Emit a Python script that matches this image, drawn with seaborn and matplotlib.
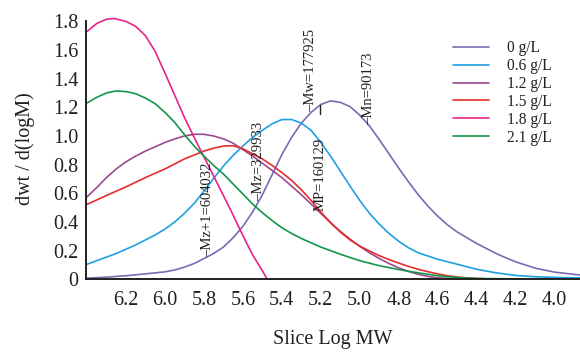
import numpy as np
import pandas as pd
import matplotlib
matplotlib.use("Agg")
import matplotlib.pyplot as plt
import seaborn as sns

# Molecular weight distribution curves, dwt/d(logM) vs slice log MW
labels = ["0 g/L", "0.6 g/L", "1.2 g/L", "1.5 g/L", "1.8 g/L", "2.1 g/L"]
colors = ["#7a6ab4", "#1ea0e2", "#9a4a8e", "#e52d2b", "#e5248a", "#14964a"]

logm_0 = [6.40, 6.30, 6.20, 6.10, 6.00, 5.95, 5.90, 5.85, 5.80, 5.75, 5.70, 5.65,
          5.60, 5.55, 5.50, 5.45, 5.40, 5.35, 5.30, 5.25, 5.20, 5.15, 5.10, 5.05,
          5.00, 4.95, 4.90, 4.85, 4.80, 4.75, 4.70, 4.65, 4.60, 4.55, 4.50, 4.45,
          4.40, 4.35, 4.30, 4.25, 4.20, 4.10, 4.00, 3.87]
dwt_0 = [0.008, 0.015, 0.025, 0.038, 0.052, 0.065, 0.085, 0.11, 0.145, 0.18, 0.225, 0.29,
         0.37, 0.47, 0.59, 0.73, 0.87, 0.99, 1.09, 1.165, 1.22, 1.245, 1.235, 1.205,
         1.145, 1.07, 0.975, 0.875, 0.775, 0.68, 0.59, 0.51, 0.44, 0.38, 0.33, 0.29,
         0.25, 0.215, 0.18, 0.15, 0.122, 0.078, 0.05, 0.03]

logm_06 = [6.40, 6.35, 6.30, 6.25, 6.20, 6.15, 6.10, 6.05, 6.00, 5.95, 5.90, 5.85,
           5.80, 5.75, 5.70, 5.65, 5.60, 5.55, 5.50, 5.45, 5.40, 5.35, 5.30, 5.25,
           5.20, 5.15, 5.10, 5.05, 5.00, 4.95, 4.90, 4.85, 4.80, 4.75, 4.70, 4.60,
           4.50, 4.40, 4.30, 4.20, 4.10, 4.00, 3.87]
dwt_06 = [0.105, 0.13, 0.155, 0.18, 0.21, 0.24, 0.275, 0.31, 0.35, 0.40, 0.46, 0.53,
          0.615, 0.705, 0.79, 0.865, 0.93, 0.99, 1.04, 1.085, 1.115, 1.115, 1.09, 1.04,
          0.955, 0.86, 0.755, 0.65, 0.55, 0.46, 0.385, 0.32, 0.265, 0.22, 0.185, 0.14,
          0.105, 0.07, 0.045, 0.027, 0.018, 0.013, 0.01]

logm_12 = [6.40, 6.35, 6.30, 6.25, 6.20, 6.15, 6.10, 6.05, 6.00, 5.95, 5.90, 5.85,
           5.80, 5.75, 5.70, 5.65, 5.60, 5.55, 5.50, 5.45, 5.40, 5.35, 5.30, 5.25,
           5.20, 5.15, 5.10, 5.05, 5.00, 4.95, 4.90, 4.85, 4.80, 4.75, 4.70, 4.65,
           4.60, 4.50, 3.87]
dwt_12 = [0.575, 0.64, 0.71, 0.77, 0.82, 0.86, 0.895, 0.925, 0.955, 0.98, 1.0, 1.012,
          1.012, 1.0, 0.98, 0.95, 0.905, 0.86, 0.81, 0.76, 0.71, 0.65, 0.59, 0.525,
          0.46, 0.395, 0.335, 0.28, 0.23, 0.185, 0.145, 0.11, 0.08, 0.055, 0.035, 0.02,
          0.01, 0.003, 0.0]

logm_15 = [6.40, 6.30, 6.20, 6.10, 6.00, 5.90, 5.80, 5.75, 5.70, 5.65, 5.60, 5.55,
           5.50, 5.45, 5.40, 5.35, 5.30, 5.25, 5.20, 5.15, 5.10, 5.05, 5.00, 4.95,
           4.90, 4.85, 4.80, 4.75, 4.70, 4.65, 4.60, 4.55, 4.50, 4.45, 4.40, 4.35]
dwt_15 = [0.523, 0.585, 0.645, 0.71, 0.77, 0.84, 0.895, 0.915, 0.93, 0.932, 0.912, 0.875,
          0.84, 0.795, 0.745, 0.69, 0.625, 0.55, 0.47, 0.395, 0.33, 0.275, 0.232, 0.197,
          0.165, 0.138, 0.113, 0.09, 0.07, 0.053, 0.038, 0.025, 0.016, 0.01, 0.006, 0.003]

logm_18 = [6.40, 6.35, 6.30, 6.26, 6.20, 6.15, 6.10, 6.05, 6.00, 5.95, 5.90, 5.85,
           5.80, 5.75, 5.70, 5.65, 5.60, 5.55, 5.50, 5.475]
dwt_18 = [1.73, 1.785, 1.815, 1.82, 1.80, 1.765, 1.70, 1.59, 1.44, 1.285, 1.13, 0.99,
          0.855, 0.72, 0.585, 0.448, 0.305, 0.17, 0.06, 0.0]

logm_21 = [6.40, 6.35, 6.30, 6.25, 6.20, 6.15, 6.10, 6.05, 6.00, 5.95, 5.90, 5.85,
           5.80, 5.75, 5.70, 5.65, 5.60, 5.55, 5.50, 5.45, 5.40, 5.35, 5.30, 5.25,
           5.20, 5.10, 5.00, 4.90, 4.80, 4.70, 4.60, 4.50, 4.40, 4.20, 3.87]
dwt_21 = [1.23, 1.27, 1.30, 1.315, 1.31, 1.295, 1.265, 1.225, 1.165, 1.095, 1.01, 0.93,
          0.86, 0.795, 0.735, 0.665, 0.595, 0.525, 0.465, 0.41, 0.36, 0.32, 0.285, 0.255,
          0.225, 0.175, 0.13, 0.095, 0.068, 0.045, 0.025, 0.012, 0.006, 0.003, 0.002]

# Average molecular weights of the 0 g/L sample
avg_names = ["Mz+1", "Mz", "Mw", "Mn"]
avg_values = [604032, 329933, 177925, 90173]
mp_value = 160129

x_ticks = [6.2, 6.0, 5.8, 5.6, 5.4, 5.2, 5.0, 4.8, 4.6, 4.4, 4.2, 4.0]
y_ticks = [0, 0.2, 0.4, 0.6, 0.8, 1.0, 1.2, 1.4, 1.6, 1.8]
y_tick_labels = ["0", "0.2", "0.4", "0.6", "0.8", "1.0", "1.2", "1.4", "1.6", "1.8"]

series = [(logm_0, dwt_0), (logm_06, dwt_06), (logm_12, dwt_12),
          (logm_15, dwt_15), (logm_18, dwt_18), (logm_21, dwt_21)]
frames = []
for lab, (xs, ys) in zip(labels, series):
    frames.append(pd.DataFrame({"logM": xs, "dwt": ys, "conc": lab}))
df = pd.concat(frames, ignore_index=True)

sns.set_theme(style="white")
plt.rcParams["font.family"] = ["Liberation Serif", "DejaVu Serif"]
plt.rcParams["text.color"] = "#231f20"
plt.rcParams["axes.labelcolor"] = "#231f20"
plt.rcParams["xtick.color"] = "#231f20"
plt.rcParams["ytick.color"] = "#231f20"

fig = plt.figure(figsize=(5.8, 3.52), dpi=100)
ax = fig.add_axes([0.1483, 0.2065, 0.8517, 0.745])

sns.lineplot(data=df, x="logM", y="dwt", hue="conc", hue_order=labels,
             palette=colors, sort=False, estimator=None, linewidth=1.2, ax=ax)
for line in ax.get_lines():
    line.set_solid_joinstyle("round")

ax.set_xlim(6.405, 3.87)
ax.set_ylim(0, 1.83)
ax.set_xticks(x_ticks)
ax.set_xticklabels([f"{v:.1f}" for v in x_ticks])
ax.set_yticks(y_ticks)
ax.set_yticklabels(y_tick_labels)
ax.tick_params(axis="both", direction="in", length=4.8, width=1.0, labelsize=14.5)
ax.tick_params(axis="x", pad=8.5)
ax.tick_params(axis="y", pad=5.5)

for side in ["top", "right"]:
    ax.spines[side].set_visible(False)
for side in ["left", "bottom"]:
    ax.spines[side].set_color("#231f20")
    ax.spines[side].set_linewidth(1.4)
ax.spines["left"].set_bounds(0, 1.8)

ax.set_xlabel("Slice Log MW", fontsize=14.5, labelpad=14)
ax.set_ylabel("dwt / d(logM)", fontsize=14.5, labelpad=13)

# Average molecular weight markers along the 0 g/L curve
x0_asc = np.array(logm_0)[::-1]
y0_asc = np.array(dwt_0)[::-1]
for name, val in zip(avg_names, avg_values):
    lx = np.log10(val)
    ly = np.interp(lx, x0_asc, y0_asc)
    ax.text(lx, ly, f"–{name}={val}", rotation=90, ha="center", va="bottom",
            fontsize=10.5, color="#231f20")

mp_x = np.log10(mp_value)
mp_y = np.interp(mp_x, x0_asc, y0_asc)
ax.plot([mp_x, mp_x], [mp_y, mp_y - 0.06], color="#231f20", linewidth=1.0)
ax.text(mp_x, 0.99, f"MP={mp_value}", rotation=90, ha="center", va="top",
        fontsize=10.5, color="#231f20")

sns.move_legend(ax, "upper left", bbox_to_anchor=(0.73, 0.935), frameon=False,
                title=None, fontsize=11.2, handlelength=2.35, handletextpad=1.1,
                labelspacing=0.12, borderaxespad=0)

fig.savefig("out.png", dpi=100)
